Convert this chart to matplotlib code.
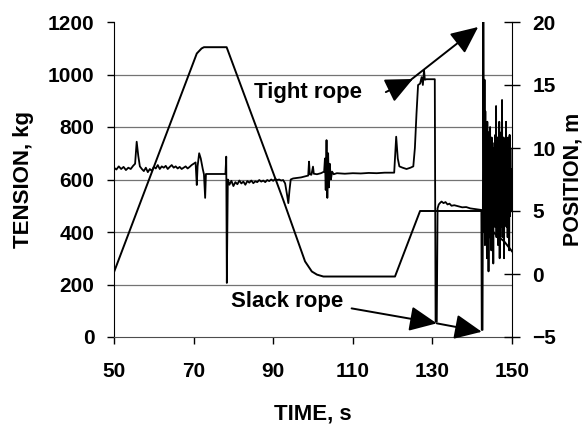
import numpy as np
import matplotlib.pyplot as plt

plt.rcParams['font.family'] = ['Liberation Sans', 'DejaVu Sans']
plt.rcParams['font.weight'] = 'bold'

# position du treuil (axe de droite, m)
t_pos = [50, 70.8, 72.0, 72.6, 78.3, 92.5, 98.0, 99.7, 101.0, 102.6, 120.6, 126.9,
         142.4, 143.0, 144.0, 146.0, 148.0, 150.0]
pos = [0.15, 17.5, 17.9, 18.0, 18.0, 5.9, 1.0, 0.2, -0.05, -0.2, -0.2, 5.0,
       5.0, 4.6, 3.8, 3.1, 2.6, 1.8]

# tension du cable (axe de gauche, kg)
t_ten = [50, 50.6, 51.2, 51.8, 52.4, 53, 53.6, 54.2, 54.8, 55.3, 55.7, 56.1, 56.5,
         57, 57.5, 58, 58.5, 59, 59.5, 60, 60.5, 61, 61.5, 62, 62.5, 63, 63.5, 64,
         64.5, 65, 65.5, 66, 66.5, 67, 67.5, 68, 68.5, 69, 69.5, 70, 70.5, 70.8,
         71, 71.4, 71.8, 72.3, 72.6, 72.9, 73.1, 78.0, 78.2, 78.35, 78.6, 79, 79.5,
         80, 80.5, 81, 81.5, 82, 82.5, 83, 83.5, 84, 84.5, 85, 85.5, 86, 86.5, 87,
         87.5, 88, 88.5, 89, 89.5, 90, 90.5, 91, 91.5, 92, 92.5, 93, 93.5, 93.8,
         94.1, 94.4, 95, 96, 97, 98, 98.8, 99, 99.2, 99.6, 100, 100.2, 101, 102,
         102.8, 103, 103.2, 103.4, 103.6, 103.8, 104, 104.2, 104.5, 104.8, 105.2,
         106, 108, 110, 112, 114, 116, 118, 120.4, 120.9, 121.3, 121.7, 122.5,
         123.5, 124.5, 125.2, 125.6, 126, 126.4, 126.9, 127.3, 127.6, 127.9, 128.1,
         128.5, 130.6, 130.8, 131.1, 131.3, 131.6, 132, 132.3, 132.8, 133.3, 133.8,
         134.3, 134.8, 135.5, 136.5, 137.5, 138.5, 139.5, 140.5, 141.5, 142.3, 142.4,
         142.6, 142.8,
         143.0, 143.1, 143.2, 143.3, 143.4, 143.5, 143.6, 143.7, 143.8, 143.9,
         144.0, 144.1, 144.2, 144.3, 144.4, 144.5, 144.6, 144.7, 144.8, 144.9,
         145.0, 145.1, 145.2, 145.3, 145.4, 145.5, 145.6, 145.7, 145.8, 145.9,
         146.0, 146.1, 146.2, 146.3, 146.4, 146.5, 146.6, 146.7, 146.8, 146.9,
         147.0, 147.1, 147.2, 147.3, 147.4, 147.5, 147.6, 147.7, 147.8, 147.9,
         148.0, 148.1, 148.2, 148.3, 148.4, 148.5, 148.6, 148.7, 148.8, 148.9,
         149.0, 149.1, 149.2, 149.3, 149.4, 149.5, 149.6, 149.7, 149.8, 149.9]
tension = [645, 638, 650, 640, 648, 636, 645, 640, 652, 660, 744, 690, 650,
           640, 632, 645, 628, 640, 633, 648, 642, 655, 640, 650, 645, 652, 640, 648,
           655, 645, 650, 642, 648, 640, 645, 650, 642, 648, 655, 660, 665, 579,
           650, 700, 680, 640, 620, 530, 621, 621, 687, 206, 600, 580, 595,
           575, 590, 582, 596, 585, 592, 580, 594, 588, 596, 586, 593, 590, 598, 592,
           596, 590, 598, 594, 600, 595, 602, 598, 600, 596, 598, 585, 540, 510,
           560, 600, 604, 606, 608, 612, 615, 668, 620, 618, 649, 622, 620, 624,
           630, 680, 560, 750, 530, 700, 570, 660, 600, 630, 620,
           624, 622, 624, 623, 625, 624, 626, 626, 763, 680, 650, 645,
           640, 645, 650, 720, 850, 960, 965, 990, 960, 1017, 980,
           982, 982, 58, 58, 490, 505, 512, 516, 510, 514, 505,
           508, 500, 502, 498, 494, 495, 490, 488, 486, 484, 27,
           27, 1200,
           400, 980, 350, 860, 420, 760, 480, 300, 820, 460,
           780, 250, 740, 520, 380, 800, 520, 700, 330, 760,
           450, 720, 600, 280, 690, 500, 740, 420, 770, 560,
           880, 380, 700, 560, 760, 350, 760, 480, 820, 300,
           720, 540, 640, 780, 420, 903, 380, 700, 520, 760,
           300, 650, 480, 740, 560, 820, 420, 700, 600, 380,
           760, 500, 680, 330, 770, 460, 720, 560, 640, 480]

fig = plt.figure(figsize=(5.88, 4.26), dpi=100)
ax = fig.add_axes([114/588, 89/426, 398/588, 315/426])
ax2 = ax.twinx()

ax.plot(t_ten, tension, color='k', lw=1.3)
ax2.plot(t_pos, pos, color='k', lw=1.4)

ax.set_xlim(50, 150)
ax.set_ylim(0, 1200)
ax2.set_ylim(-5, 20)
ax.set_xticks([50, 70, 90, 110, 130, 150])
ax.set_yticks(range(0, 1201, 200))
ax2.set_yticks(range(-5, 21, 5))

for y in range(200, 1001, 200):
    ax.axhline(y, color='0.45', lw=0.9, zorder=0)

for a in (ax, ax2):
    a.spines['top'].set_visible(False)
ax.spines['right'].set_visible(False)
ax2.spines['left'].set_visible(False)
ax2.spines['bottom'].set_visible(False)
ax.spines['bottom'].set_color('0.3')

ax.tick_params(axis='x', direction='out', length=5, width=1, pad=13, labelsize=15)
ax.tick_params(axis='y', direction='out', length=5, width=1, pad=9, labelsize=15)
ax2.tick_params(axis='y', direction='inout', length=11, width=1, pad=9, labelsize=15)

ax.set_xlabel('TIME, s', fontsize=16, fontweight='bold', labelpad=16)
ax.set_ylabel('TENSION, kg', fontsize=16, fontweight='bold', labelpad=10)
ax2.set_ylabel('POSITION, m', fontsize=15.5, fontweight='bold', labelpad=5)

# annotations
ax.text(98.7, 933, 'Tight rope', fontsize=16, fontweight='bold', ha='center', va='center')
ax.text(93.4, 134, 'Slack rope', fontsize=16, fontweight='bold', ha='center', va='center')
arr = dict(arrowstyle='-|>,head_length=0.7,head_width=0.32', color='k', lw=1.4,
           mutation_scale=24, shrinkA=0, shrinkB=0)
ax.annotate('', xy=(125.1, 983), xytext=(118.3, 933), arrowprops=arr)
ax.annotate('', xy=(141.5, 1181), xytext=(122.5, 955), arrowprops=arr)
ax.annotate('', xy=(131.1, 52), xytext=(109.7, 109), arrowprops=arr)
ax.annotate('', xy=(142.4, 20), xytext=(131.1, 52), arrowprops=arr)

fig.savefig('out.png', dpi=100)
